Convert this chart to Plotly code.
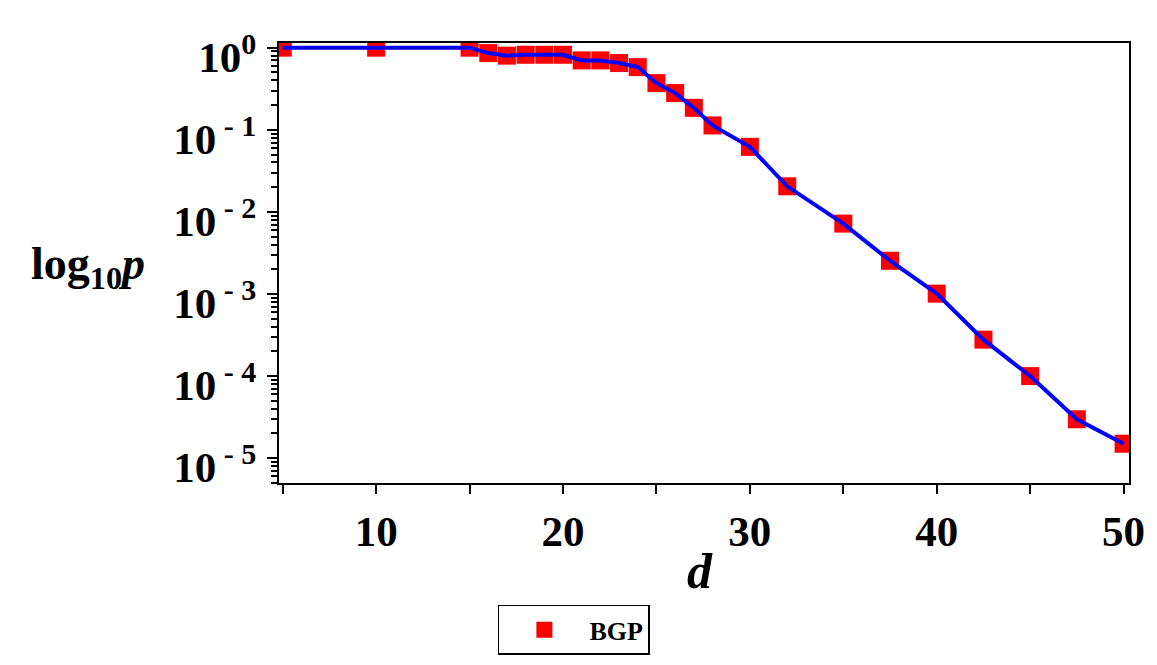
import plotly.graph_objects as go

# Data
d_values = [5, 10, 15, 16, 17, 18, 19, 20, 21, 22, 23, 24, 25, 26, 27, 28,
            30, 32, 35, 37.5, 40, 42.5, 45, 47.5, 50]
p_values = [1.0, 1.0, 1.0, 0.86, 0.80, 0.82, 0.82, 0.82, 0.70, 0.70, 0.65, 0.58,
            0.37, 0.28, 0.185, 0.113, 0.062, 0.0205, 0.0072, 0.00254, 0.00101,
            0.000278, 0.0001, 0.0000298, 0.0000150]
series_name = "BGP"

x_major_ticks = [10, 20, 30, 40, 50]
x_minor_ticks = [5, 15, 25, 35, 45]
y_exponents = [0, -1, -2, -3, -4, -5]
y_tick_labels = ["10<sup>0</sup>", "10<sup> - 1</sup>", "10<sup> - 2</sup>",
                 "10<sup> - 3</sup>", "10<sup> - 4</sup>", "10<sup> - 5</sup>"]

y_major_vals = [10.0 ** e for e in y_exponents]
y_minor_vals = [k * 10.0 ** e for e in range(-6, 1) for k in range(2, 10)]

serif = "Liberation Serif"

fig = go.Figure()
fig.add_trace(go.Scatter(
    x=d_values, y=p_values, mode="markers", name=series_name,
    marker=dict(symbol="square", size=18, color="#ff0000", line=dict(width=0)),
    showlegend=True,
))
fig.add_trace(go.Scatter(
    x=d_values, y=p_values, mode="lines", name=series_name + " line",
    line=dict(color="#0000ff", width=4), showlegend=False,
))

axis_font = dict(family=serif, size=43, color="black", weight="bold")

fig.update_layout(
    width=1157, height=665,
    margin=dict(l=279, r=27.5, t=43, b=181),
    paper_bgcolor="white", plot_bgcolor="white",
    showlegend=True,
    legend=dict(
        x=0.2575, y=-0.274, xanchor="left", yanchor="top",
        bordercolor="black", borderwidth=1.5, bgcolor="white",
        font=dict(family=serif, size=26, color="black", weight="bold"),
        itemwidth=80,
    ),
    xaxis=dict(
        range=[4.80, 50.29],
        tickvals=x_major_ticks, ticktext=[str(v) for v in x_major_ticks],
        ticks="outside", ticklen=9, tickwidth=2, tickcolor="black",
        minor=dict(tickvals=x_minor_ticks, ticks="outside", ticklen=9,
                   tickwidth=2, tickcolor="black"),
        showline=True, linecolor="black", linewidth=2, mirror=True,
        showgrid=False, zeroline=False,
        tickfont=axis_font,
    ),
    yaxis=dict(
        type="log", range=[-5.302, 0.057],
        tickvals=y_major_vals, ticktext=y_tick_labels,
        ticks="outside", ticklen=10, tickwidth=2, tickcolor="black",
        minor=dict(tickvals=y_minor_vals, ticks="outside", ticklen=6,
                   tickwidth=2, tickcolor="black"),
        showline=True, linecolor="black", linewidth=2, mirror=True,
        showgrid=False, zeroline=False,
        tickfont=axis_font, ticklabelshift=9, ticklabelstandoff=2,
    ),
    annotations=[
        dict(text="<b><i>d</i></b>", xref="paper", yref="paper",
             x=0.495, y=-0.20, xanchor="center", yanchor="middle",
             showarrow=False,
             font=dict(family=serif, size=50, color="black")),
        dict(text="<b>log<sub>10</sub><i>p</i></b>", xref="paper", yref="paper",
             x=-0.225, y=0.49, xanchor="center", yanchor="middle",
             showarrow=False,
             font=dict(family=serif, size=46, color="black")),
    ],
)

fig.write_html("out.html")
